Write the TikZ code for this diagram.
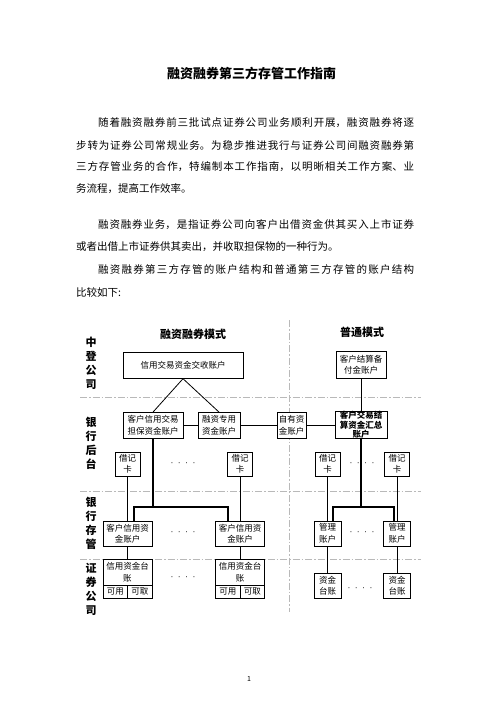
\documentclass[tikz,border=0pt]{standalone}
\usepackage{fontspec}
\setmainfont{Noto Sans CJK SC}
\newfontfamily\latinfont{Liberation Sans}
\usetikzlibrary{positioning,calc}
\newcommand{\jl}[2]{\parbox{#1pt}{\XeTeXlinebreaklocale "zh"\XeTeXlinebreakskip=0pt plus 3pt\parfillskip=0pt\relax #2}}
\newcommand{\boxfont}{\fontsize{8.5}{11.5}\selectfont}

\begin{document}
\begin{tikzpicture}[x=1pt,y=-1pt,
  txt/.style={inner sep=0pt,font=\fontsize{10.5}{12}\selectfont},
  para/.style={txt,anchor=west},
  hdr/.style={inner sep=0pt,font=\fontsize{11}{12}\selectfont\bfseries},
  side/.style={inner sep=0pt,align=center,font=\fontsize{11}{13.8}\selectfont\bfseries},
  acct/.style={draw,line width=0.8pt,fill=white,inner sep=0pt,align=center,font=\boxfont},
  card/.style={acct,minimum width=25pt,minimum height=24pt},
  sub/.style={acct,minimum width=24.5pt,minimum height=13pt},
  sep/.style={gray!55,line width=0.6pt,dash pattern=on 7pt off 2pt on 1.5pt off 2pt},
  link/.style={line width=0.8pt},
  bus/.style={line width=2.2pt},
  dots/.style={inner sep=0pt,font=\latinfont\fontsize{8.5}{10}\selectfont}
]
\useasboundingbox (0,0) rectangle (497,702);

% title and text
\node[hdr,font=\fontsize{13}{14}\selectfont\bfseries] (title) at (251.5,73) {融资融券第三方存管工作指南};
\node[para] (p1a) at (98,123) {\jl{316}{随着融资融券前三批试点证券公司业务顺利开展，融资融券将逐}};
\node[para] (p1b) at (76,145) {\jl{338}{步转为证券公司常规业务。为稳步推进我行与证券公司间融资融券第}};
\node[para] (p1c) at (76,167) {\jl{338}{三方存管业务的合作，特编制本工作指南，以明晰相关工作方案、业}};
\node[para] (p1d) at (76,189) {务流程，提高工作效率。};
\node[para] (p2a) at (98,225) {\jl{316}{融资融券业务，是指证券公司向客户出借资金供其买入上市证券}};
\node[para] (p2b) at (76,247) {或者出借上市证券供其卖出，并收取担保物的一种行为。};
\node[para] (p3a) at (98,270) {\jl{316}{融资融券第三方存管的账户结构和普通第三方存管的账户结构}};
\node[para] (p3b) at (76,292) {比较如下:};

% separators
\draw[sep] (80,397) -- (421,397);
\draw[sep] (80,491) -- (421,491);
\draw[sep] (80,559) -- (421,559);
\draw[sep] (289,320) -- (289,612);

% headers
\node[hdr] (hdrRZ) at (193,334) {融资融券模式};
\node[hdr] (hdrPT) at (362,332) {普通模式};
\node[side] (sideZD) at (91,363.5) {中\\登\\公\\司};
\node[side] (sideHT) at (91,443.5) {银\\行\\后\\台};
\node[side] (sideCG) at (91,523.5) {银\\行\\存\\管};
\node[side] (sideZQ) at (91,589.5) {证\\券\\公\\司};

% accounts
\node[acct,minimum width=120pt,minimum height=25.6pt] (jiaoshou) at (183,365.5) {信用交易资金交收账户};
\node[acct,minimum width=50pt,minimum height=26.6pt] (beifu) at (361,365) {客户结算备\\付金账户};
\node[acct,minimum width=60pt,minimum height=26pt] (danbao) at (153,425.5) {客户信用交易\\担保资金账户};
\node[acct,minimum width=42pt,minimum height=26pt] (zhuanyong) at (219,425.5) {融资专用\\资金账户};
\node[acct,minimum width=29pt,minimum height=26pt] (ziyou) at (291.5,425.5) {自有资\\金账户};
\node[acct,minimum width=52pt,minimum height=27pt,font=\fontsize{8.5}{9.5}\selectfont\bfseries] (huizong) at (361,425) {客户交易结\\算资金汇总\\账户};

\node[card] (card1) at (127.5,464) {借记\\卡};
\node[card] (card2) at (240,464) {借记\\卡};
\node[card] (card3) at (327.5,464) {借记\\卡};
\node[card] (card4) at (397,464) {借记\\卡};

\node[acct,minimum width=49pt,minimum height=25pt] (xyzh1) at (127.5,533.5) {客户信用资\\金账户};
\node[acct,minimum width=49pt,minimum height=25pt] (xyzh2) at (240,533.5) {客户信用资\\金账户};
\node[acct,minimum width=27pt,minimum height=25pt] (gl1) at (327.5,533.5) {管理\\账户};
\node[acct,minimum width=27pt,minimum height=25pt] (gl2) at (397,533.5) {管理\\账户};

\node[acct,minimum width=49pt,minimum height=26pt] (tz1) at (127.5,572) {信用资金台\\账};
\node[sub] (ky1) at (115.25,591.5) {可用};
\node[sub] (kq1) at (139.75,591.5) {可取};
\node[acct,minimum width=49pt,minimum height=26pt] (tz2) at (240,572) {信用资金台\\账};
\node[sub] (ky2) at (227.75,591.5) {可用};
\node[sub] (kq2) at (252.25,591.5) {可取};
\node[acct,minimum width=27pt,minimum height=25pt] (zjtz1) at (327.5,585.5) {资金\\台账};
\node[acct,minimum width=27pt,minimum height=25pt] (zjtz2) at (397,585.5) {资金\\台账};

\node[dots] (dotsA) at (183,464) {·\hspace{4.5pt}·\hspace{4.5pt}·\hspace{4.5pt}·};
\node[dots] (dotsB) at (362,464) {·\hspace{4.5pt}·\hspace{4.5pt}·\hspace{4.5pt}·};
\node[dots] (dotsC) at (183,533) {·\hspace{4.5pt}·\hspace{4.5pt}·\hspace{4.5pt}·};
\node[dots] (dotsD) at (362,533) {·\hspace{4.5pt}·\hspace{4.5pt}·\hspace{4.5pt}·};
\node[dots] (dotsE) at (183,578) {·\hspace{4.5pt}·\hspace{4.5pt}·\hspace{4.5pt}·};
\node[dots] (dotsF) at (360,589) {·\hspace{4.5pt}·\hspace{4.5pt}·\hspace{4.5pt}·};

% links
\draw[link] (jiaoshou.south) -- (danbao.north);
\draw[link] (jiaoshou.south) -- (zhuanyong.north);
\draw[link] (danbao.east) -- (danbao.east -| zhuanyong.west);
\draw[link] (zhuanyong.east) -- (zhuanyong.east -| ziyou.west);
\draw[link] (ziyou.east) -- (ziyou.east -| huizong.west);
\draw[link] (beifu) -- (huizong);
\draw[link] (card1) -- (xyzh1);
\draw[link] (card2) -- (xyzh2);
\draw[link] (card3) -- (gl1);
\draw[link] (card4) -- (gl2);
\draw[link] (xyzh1) -- (tz1);
\draw[link] (xyzh2) -- (tz2);
\draw[link] (gl1) -- (zjtz1);
\draw[link] (gl2) -- (zjtz2);

% thick buses
\coordinate (busL1) at (134,507);
\coordinate (busL2) at (228.3,507);
\draw[bus] (danbao.south) -- (danbao.south |- busL1);
\draw[bus] (xyzh1.north -| busL1) -- (busL1) -- (busL2) -- (xyzh2.north -| busL2);
\coordinate (busR1) at (333,507);
\coordinate (busR2) at (394,507);
\draw[bus] (huizong.south) -- (huizong.south |- busR1);
\draw[bus] (gl1.north -| busR1) -- (busR1) -- (busR2) -- (gl2.north -| busR2);

\node[txt,font=\fontsize{7}{8}\selectfont] (pgno) at (249,679) {1};
\end{tikzpicture}
\end{document}
